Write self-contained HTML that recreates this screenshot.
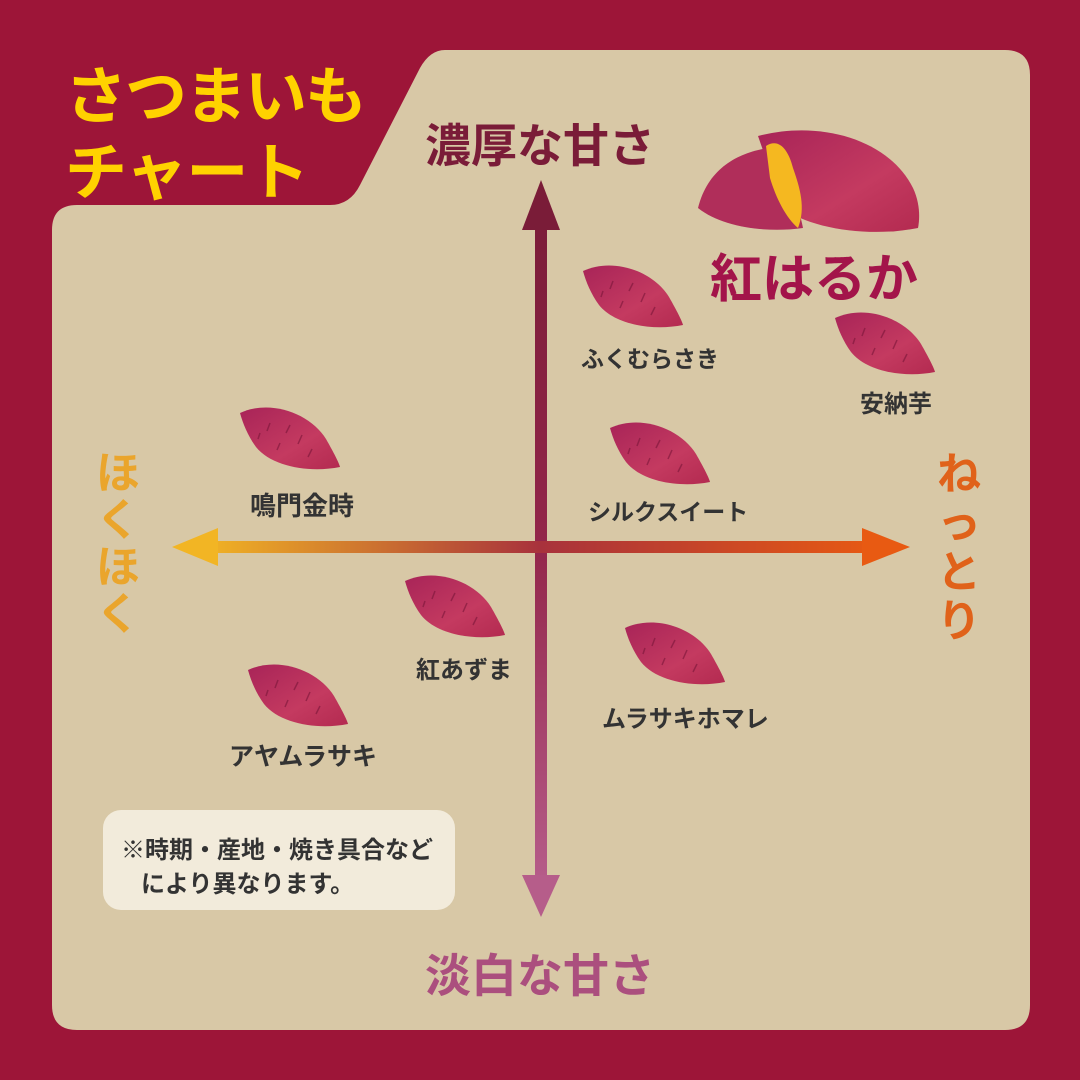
<!DOCTYPE html>
<html><head><meta charset="utf-8"><style>
body{margin:0;width:1080px;height:1080px;overflow:hidden;background:#9d1538;}
.t{position:absolute;font-family:"Liberation Sans","Noto Sans CJK JP",sans-serif;font-weight:bold;white-space:nowrap;}
</style></head><body>
<svg width="1080" height="1080" style="position:absolute;left:0;top:0">
<defs>
<linearGradient id="gv" x1="0" y1="0" x2="0" y2="1"><stop offset="0" stop-color="#7a1c38"/><stop offset="0.5" stop-color="#93264a"/><stop offset="1" stop-color="#b65d8a"/></linearGradient>
<linearGradient id="gh" x1="0" y1="0" x2="1" y2="0"><stop offset="0" stop-color="#f2b524"/><stop offset="0.5" stop-color="#a8323c"/><stop offset="1" stop-color="#e85a12"/></linearGradient>
<linearGradient id="gp" x1="0" y1="0" x2="1" y2="1"><stop offset="0" stop-color="#a82458"/><stop offset="0.6" stop-color="#c43a60"/><stop offset="1" stop-color="#b32a50"/></linearGradient>
<g id="pot"><path d="M0,8 C30,-6 70,8 86,34 C94,48 99,58 100,62 C70,68 32,62 16,42 C8,31 3,19 0,8Z" fill="url(#gp)"/>
<path d="M30,18 l-3,8 M50,20 l-4,8 M62,30 l-4,9 M40,38 l-3,7 M72,44 l-4,8 M20,28 l-2,6" stroke="#7a1538" stroke-width="1.5" fill="none" opacity="0.6"/></g>
</defs>
<path d="M445,50 H1005 Q1030,50 1030,75 V1005 Q1030,1030 1005,1030 H77 Q52,1030 52,1005 V230 Q52,205 77,205 H330 Q350,205 360,185 L420,68 Q430,50 445,50Z" fill="#d8c8a6"/>
<rect x="103" y="810" width="352" height="100" rx="18" fill="#f2ebdb"/>
<rect x="535" y="205" width="12" height="680" fill="url(#gv)"/>
<polygon points="541,180 522,230 560,230" fill="#7a1c38"/>
<polygon points="541,917 522,875 560,875" fill="#b65d8a"/>
<rect x="200" y="541" width="680" height="12" fill="url(#gh)"/>
<polygon points="172,547 218,528 218,566" fill="#f2b524"/>
<polygon points="910,547 862,528 862,566" fill="#e85a12"/>
<use href="#pot" transform="translate(583,263)"/>
<use href="#pot" transform="translate(835,310)"/>
<use href="#pot" transform="translate(240,405)"/>
<use href="#pot" transform="translate(610,420)"/>
<use href="#pot" transform="translate(405,573)"/>
<use href="#pot" transform="translate(625,620)"/>
<use href="#pot" transform="translate(248,662)"/>
<g transform="translate(698,128)">
<path d="M60,8 C120,-8 190,10 215,60 C222,75 222,90 220,100 C170,110 110,100 85,80 Z" fill="url(#gp)"/>
<path d="M0,80 C10,40 40,25 70,20 C90,50 100,75 105,100 C70,105 25,100 0,80Z" fill="#b02e5a"/>
<path d="M68,18 C80,10 90,20 95,40 C102,60 108,80 100,100 C88,90 78,70 72,50 Z" fill="#f5b820"/>
</g>
</svg>
<div class="t" style="left:65px;top:46px;font-size:62px;color:#ffd200;letter-spacing:-2px">さつまいも</div>
<div class="t" style="left:65px;top:122px;font-size:62px;color:#ffd200;letter-spacing:-1px">チャート</div>
<div class="t" style="left:425px;top:110px;font-size:46px;color:#7a1c38">濃厚な甘さ</div>
<div class="t" style="left:425px;top:940px;font-size:46px;color:#ab4f7e">淡白な甘さ</div>
<div class="t" style="left:96px;top:450px;font-size:44px;color:#eaa52c;width:46px;line-height:47px;white-space:normal">ほくほく</div>
<div class="t" style="left:937px;top:450px;font-size:44px;color:#e0621a;width:46px;line-height:49px;white-space:normal">ねっとり</div>
<div class="t" style="left:710px;top:237px;font-size:52px;color:#a3144a">紅はるか</div>
<div class="t" style="left:581px;top:340px;font-size:23px;color:#333">ふくむらさき</div>
<div class="t" style="left:860px;top:384px;font-size:24px;color:#333">安納芋</div>
<div class="t" style="left:250px;top:486px;font-size:26px;color:#333">鳴門金時</div>
<div class="t" style="left:588px;top:493px;font-size:23px;color:#333">シルクスイート</div>
<div class="t" style="left:416px;top:650px;font-size:24px;color:#333">紅あずま</div>
<div class="t" style="left:602px;top:699px;font-size:24px;color:#333">ムラサキホマレ</div>
<div class="t" style="left:229px;top:737px;font-size:25px;color:#333">アヤムラサキ</div>
<div class="t" style="left:121px;top:830px;font-size:24px;color:#333">※時期・産地・焼き具合など</div>
<div class="t" style="left:141px;top:864px;font-size:24px;color:#333">により異なります。</div>
</body></html>
